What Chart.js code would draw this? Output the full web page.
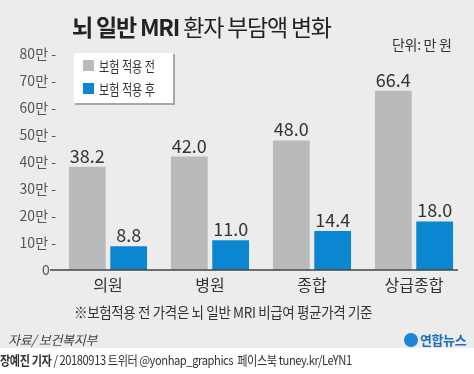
<!DOCTYPE html>
<html>
<head>
<meta charset="utf-8">
<script src="https://cdn.jsdelivr.net/npm/chart.js@4"></script>
<style>
  html, body { margin: 0; padding: 0; }
  body { width: 474px; height: 374px; position: relative; overflow: hidden; background: #ececec;
         font-family: "Noto Sans CJK KR", sans-serif; color: #333; }
  #chart { position: absolute; left: 0; top: 0; }
  .txt { position: absolute; white-space: nowrap; transform-origin: 0 50%; }
  #title { left: 72px; top: 11px; font-size: 23px; letter-spacing: -1.2px; color: #222; line-height: 30px; }
  #title b { font-weight: 700; }
  #title span { font-weight: 400; }
  #unit { left: 392px; top: 34px; font-size: 14px; line-height: 20px; color: #333; letter-spacing: -0.3px; }
  #note { left: 74px; top: 302px; font-size: 15px; line-height: 20px; color: #333; letter-spacing: -0.4px; transform: scaleX(0.9); }
  #src { left: 8px; top: 331px; font-size: 13px; line-height: 18px; color: #444; font-style: italic; letter-spacing: -0.3px; }
  #logo { left: 404px; top: 331px; font-size: 13px; line-height: 18px; font-weight: 700; color: #1b6fc1; letter-spacing: -0.4px; }
  #logo i { display: inline-block; width: 14px; height: 14px; border-radius: 50%; background: #1b85d6;
            vertical-align: -2px; margin-right: 2px; }
  #strip { position: absolute; left: 0; top: 348px; width: 474px; height: 26px; background: #fff; }
  #credit { left: 0; top: 350px; font-size: 13px; line-height: 20px; color: #333; letter-spacing: -0.5px; transform: scaleX(0.86); }
  #credit b { font-weight: 700; }
</style>
</head>
<body>
<div id="strip"></div>
<canvas id="chart" width="474" height="374"></canvas>
<div class="txt" id="title"><b>뇌 일반 MRI</b> <span>환자 부담액 변화</span></div>
<div class="txt" id="unit">단위: 만 원</div>
<div class="txt" id="note">※보험적용 전 가격은 뇌 일반 MRI 비급여 평균가격 기준</div>
<div class="txt" id="src">자료/ 보건복지부</div>
<div class="txt" id="logo"><i></i>연합뉴스</div>
<div class="txt" id="credit"><b>장예진 기자</b> / 20180913 트위터 @yonhap_graphics&nbsp; 페이스북 tuney.kr/LeYN1</div>
<script>
// 뇌 일반 MRI 환자 부담액 (단위: 만 원)
const categories = ["의원", "병원", "종합", "상급종합"];
const before = [38.2, 42.0, 48.0, 66.4];   // 보험 적용 전
const after = [8.8, 11.0, 14.4, 18.0];     // 보험 적용 후
const seriesNames = ["보험 적용 전", "보험 적용 후"];
const yTicks = [0, 10, 20, 30, 40, 50, 60, 70, 80];

const grayCol = "#b9babc";
const blueCol = "#0b86d0";
const numFont = '"Liberation Sans Narrow", "Noto Sans CJK KR", sans-serif';

// value labels above each bar
const valueLabels = {
    id: "valueLabels",
    afterDatasetsDraw(chart) {
        const ctx = chart.ctx;
        ctx.save();
        ctx.font = "18px " + numFont;
        ctx.fillStyle = "#333";
        ctx.textAlign = "center";
        ctx.textBaseline = "alphabetic";
        chart.data.datasets.forEach((ds, i) => {
            chart.getDatasetMeta(i).data.forEach((bar, j) => {
                ctx.fillText(ds.data[j].toFixed(1), bar.x, bar.y - 4);
            });
        });
        ctx.restore();
    }
};

// baseline under the bars, starting right after the "0" label
const baseLine = {
    id: "baseLine",
    afterDatasetsDraw(chart) {
        const ctx = chart.ctx;
        const y = chart.scales.y.getPixelForValue(0);
        ctx.save();
        ctx.strokeStyle = "#444";
        ctx.lineWidth = 1.5;
        ctx.beginPath();
        ctx.moveTo(50, y);
        ctx.lineTo(458, y);
        ctx.stroke();
        ctx.restore();
    }
};

// legend box in the top left corner of the plot
const legendBox = {
    id: "legendBox",
    afterDraw(chart) {
        const ctx = chart.ctx;
        const x = 74, y = 53, w = 99, h = 50;
        ctx.save();
        ctx.fillStyle = "#a8a8a8";
        ctx.fillRect(x + 1, y + 1, w + 1, h + 1);
        ctx.fillStyle = "#fff";
        ctx.fillRect(x, y, w, h);
        ctx.font = "15px 'Noto Sans CJK KR', sans-serif";
        ctx.textBaseline = "middle";
        chart.data.datasets.forEach((ds, i) => {
            const cy = y + 13 + i * 23;
            ctx.fillStyle = ds.backgroundColor;
            ctx.fillRect(x + 9, cy - 6, 11, 11);
            ctx.fillStyle = "#333";
            ctx.save();
            ctx.translate(x + 25, cy);
            ctx.scale(0.74, 1);
            ctx.fillText(ds.label, 0, 0);
            ctx.restore();
        });
        ctx.restore();
    }
};

new Chart("chart", {
    type: "bar",
    data: {
        labels: categories,
        datasets: [
            { label: seriesNames[0], data: before, backgroundColor: grayCol },
            { label: seriesNames[1], data: after, backgroundColor: blueCol }
        ]
    },
    options: {
        responsive: false,
        animation: false,
        layout: { padding: { top: 54, right: 9, bottom: 74, left: 0 } },
        categoryPercentage: 0.81,
        barPercentage: 0.89,
        plugins: { legend: { display: false }, tooltip: { enabled: false } },
        scales: {
            x: {
                grid: { display: false, drawTicks: false },
                border: { display: false },
                ticks: { color: "#333", padding: 5, font: { size: 16, family: "'Noto Sans CJK KR', sans-serif" } },
                afterFit(scale) { scale.height = 30; }
            },
            y: {
                min: 0, max: 80,
                grid: { display: false, drawTicks: false },
                border: { display: false },
                afterBuildTicks(scale) { scale.ticks = yTicks.map(v => ({ value: v })); },
                ticks: {
                    color: "#555", padding: 1,
                    font: { size: 14, family: numFont },
                    callback: v => v === 0 ? "0  " : v + "만 -"
                },
                afterFit(scale) { scale.width = 57; }
            }
        }
    },
    plugins: [valueLabels, baseLine, legendBox]
});
</script>
</body>
</html>
